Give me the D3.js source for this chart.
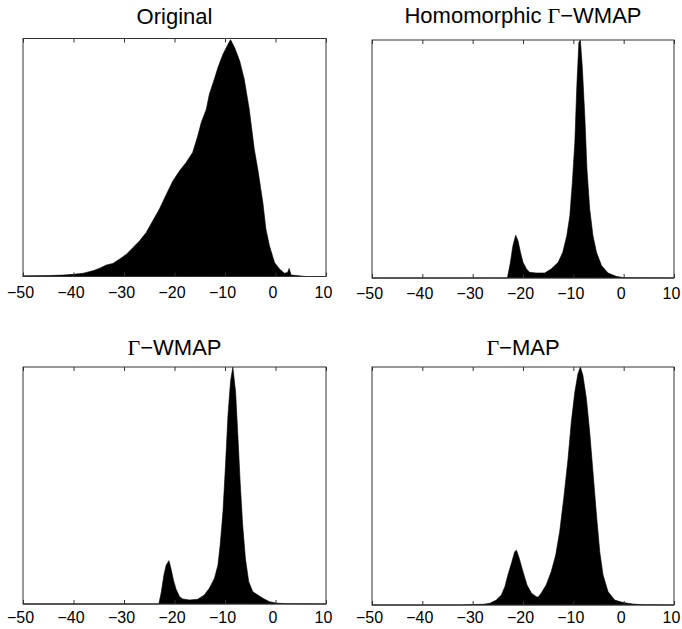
<!DOCTYPE html>
<html lang="en">
<head>
<meta charset="utf-8">
<title>Histograms</title>
<script src="https://d3js.org/d3.v7.min.js"></script>
<style>
  body { margin: 0; background: #fff; }
  text { font-family: "Liberation Sans", Arial, sans-serif; fill: #000; }
</style>
</head>
<body>
<script>
// panel titles and x ticks
var titles = ["Original", "Homomorphic \u0393\u2212WMAP", "\u0393\u2212WMAP", "\u0393\u2212MAP"];
var xTicks = [-50, -40, -30, -20, -10, 0, 10];

// histogram outlines, heights relative to the panel top
var origX = [-50, -45, -42, -40, -38, -36, -34.8, -33.5, -32.2, -30.9, -29.5, -28.2, -26.9, -25.6, -24.3, -23, -21.6, -20.3, -19, -17.7, -16.4, -15.4, -14.7, -13.7, -13.1, -12.1, -11.4, -10.4, -9.4, -8.9, -8.1, -7.1, -6.2, -5.2, -4.2, -3.5, -2.5, -1.9, -1.2, -0.2, 0.8, 1.75, 2.4, 2.7, 3.1, 4.7, 6, 10];
var origH = [0.003, 0.004, 0.006, 0.009, 0.014, 0.025, 0.035, 0.048, 0.055, 0.073, 0.094, 0.122, 0.15, 0.185, 0.234, 0.283, 0.346, 0.402, 0.444, 0.479, 0.521, 0.59, 0.647, 0.703, 0.766, 0.83, 0.878, 0.934, 0.976, 0.995, 0.962, 0.906, 0.83, 0.703, 0.535, 0.45, 0.31, 0.2, 0.129, 0.059, 0.031, 0.014, 0.017, 0.034, 0.006, 0.003, 0, 0];

var homX = [-50, -23.1, -22.5, -22, -21.45, -21, -20.5, -20, -19.3, -18.7, -17.4, -15.7, -14.4, -13, -12.1, -11.3, -10.7, -10.2, -9.7, -9.3, -8.9, -8.6, -8.2, -7.7, -7.3, -6.75, -6.1, -5.4, -4.4, -3.1, -1.5, 0, 10];
var homH = [0, 0, 0.066, 0.136, 0.18, 0.157, 0.108, 0.066, 0.038, 0.024, 0.021, 0.021, 0.038, 0.066, 0.108, 0.178, 0.26, 0.4, 0.57, 0.81, 0.99, 1.0, 0.88, 0.67, 0.46, 0.29, 0.178, 0.108, 0.052, 0.021, 0.007, 0.001, 0];

var wmapX = [-50, -23.1, -22.6, -22.1, -21.65, -21.1, -20.7, -20.2, -19.7, -19, -18.35, -17, -15.4, -14.1, -13.1, -12.1, -11.4, -10.95, -10.4, -9.9, -9.4, -8.9, -8.45, -7.9, -7.45, -7, -6.5, -5.95, -5.3, -4.5, -3.5, -2.5, -1.2, 0.1, 2.1, 10];
var wmapH = [0, 0, 0.052, 0.122, 0.164, 0.183, 0.15, 0.1, 0.063, 0.031, 0.021, 0.017, 0.02, 0.038, 0.066, 0.108, 0.164, 0.25, 0.39, 0.586, 0.8, 0.94, 1.0, 0.895, 0.71, 0.515, 0.333, 0.19, 0.094, 0.052, 0.038, 0.024, 0.01, 0.004, 0.001, 0];

var mapX = [-50, -32, -30, -27.9, -26.6, -25.3, -24.3, -23.6, -23, -22.3, -21.65, -21.3, -20.8, -20, -19.2, -18.3, -17.35, -17, -16.4, -15.4, -14.4, -13.5, -12.7, -11.9, -11.05, -10.4, -9.7, -9.1, -8.6, -8.1, -7.4, -6.75, -6.1, -5.4, -4.75, -4.1, -3.1, -1.8, -0.1, 1.85, 3.8, 10];
var mapH = [0, 0, 0.002, 0.003, 0.007, 0.021, 0.042, 0.077, 0.126, 0.175, 0.224, 0.23, 0.2, 0.14, 0.084, 0.049, 0.035, 0.033, 0.049, 0.084, 0.14, 0.21, 0.31, 0.45, 0.615, 0.77, 0.895, 0.97, 1.0, 0.965, 0.867, 0.727, 0.56, 0.378, 0.224, 0.126, 0.056, 0.021, 0.01, 0.004, 0.001, 0];

var seriesX = [origX, homX, wmapX, mapX];
var seriesH = [origH, homH, wmapH, mapH];

var W = 682, H = 629;
var lefts = [23, 372, 23, 372];
var tops = [38.5, 40, 367, 367];
var widths = [303, 302, 303, 302];
var heights = [238, 238, 237, 238];
var labelGap = [21, 21, 19, 18];
var titleGap = [15, 17, 12, 12];

var svg = d3.select("body").append("svg").attr("width", W).attr("height", H);

for (var i = 0; i < 4; i++) {
    var pw = widths[i], ph = heights[i];
    var g = svg.append("g").attr("transform", "translate(" + lefts[i] + "," + tops[i] + ")");
    var x = d3.scaleLinear().domain([-50, 10]).range([0, pw]);
    var y = d3.scaleLinear().domain([0, 1]).range([ph, 0]);

    var pts = seriesX[i].map(function (v, j) { return [v, seriesH[i][j]]; });
    var area = d3.area()
        .x(function (d) { return x(d[0]); })
        .y0(ph)
        .y1(function (d) { return y(d[1]); });
    g.append("path").datum(pts).attr("d", area)
        .attr("fill", "#000").attr("stroke", "#000").attr("stroke-width", 0.6);

    // box
    g.append("rect").attr("width", pw).attr("height", ph)
        .attr("fill", "none").attr("stroke", "#333").attr("stroke-width", 1);

    // bottom axis, ticks pointing inward
    var ax = g.append("g").attr("transform", "translate(0," + ph + ")")
        .call(d3.axisBottom(x).tickValues(xTicks).tickSize(-4)
            .tickFormat(function (d) { return d < 0 ? "\u2212" + Math.abs(d) : d; }));
    ax.select(".domain").remove();
    ax.selectAll("line").attr("stroke", "#333");
    ax.selectAll("text").attr("y", labelGap[i]).attr("dy", 0).attr("dx", -3)
        .attr("font-size", 16).attr("font-family", "Liberation Sans, Arial, sans-serif");

    // top ticks
    var at = g.append("g").call(d3.axisTop(x).tickValues(xTicks).tickSize(-4).tickFormat(""));
    at.select(".domain").remove();
    at.selectAll("line").attr("stroke", "#333");

    // title, gamma set in a serif face
    var t = svg.append("text").attr("x", lefts[i] + pw / 2).attr("y", tops[i] - titleGap[i])
        .attr("text-anchor", "middle").attr("font-size", 22);
    titles[i].split(/(\u0393)/).forEach(function (s) {
        if (!s) return;
        var sp = t.append("tspan").text(s);
        if (s === "\u0393") sp.attr("font-family", "Liberation Serif, Times, serif");
    });
}
</script>
</body>
</html>
